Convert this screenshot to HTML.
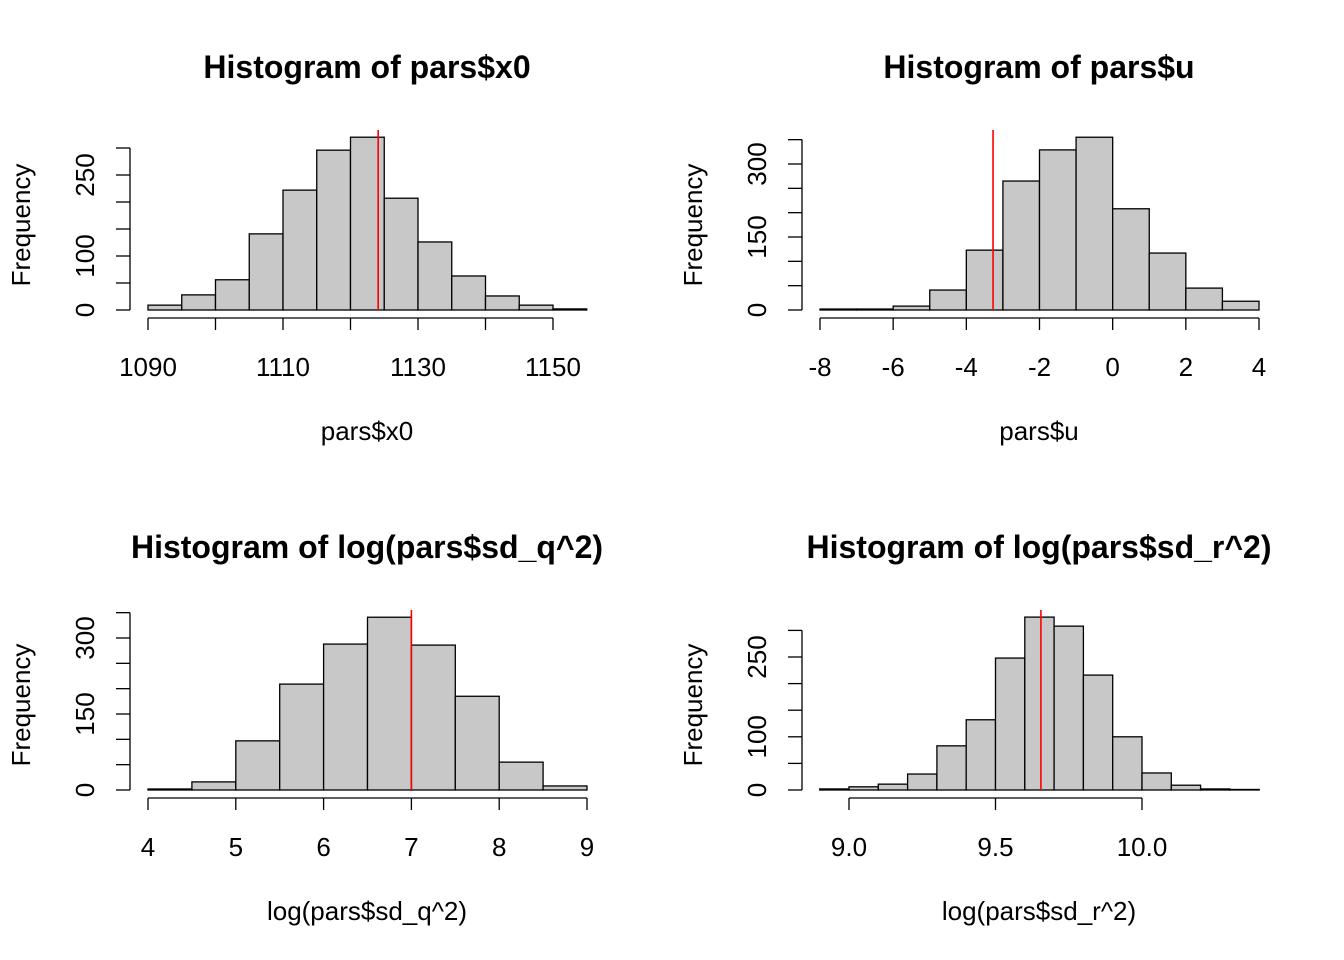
<!DOCTYPE html>
<html><head><meta charset="utf-8"><style>
body{margin:0;background:#fff;}
svg{display:block;font-family:"Liberation Sans",Arial,sans-serif;}
</style></head><body>
<svg id="chart" width="1344" height="960" viewBox="0 0 1344 960"></svg>
<script>
const titles=["Histogram of pars$x0","Histogram of pars$u","Histogram of log(pars$sd_q^2)","Histogram of log(pars$sd_r^2)"];
const xlabels=["pars$x0","pars$u","log(pars$sd_q^2)","log(pars$sd_r^2)"];
const breaks1=[1090,1095,1100,1105,1110,1115,1120,1125,1130,1135,1140,1145,1150,1155];
const counts1=[9,28,56,141,222,296,320,207,126,63,26,9,2];
const breaks2=[-8,-7,-6,-5,-4,-3,-2,-1,0,1,2,3,4];
const counts2=[2,2,8,41,123,265,329,355,208,117,45,18];
const breaks3=[4,4.5,5,5.5,6,6.5,7,7.5,8,8.5,9];
const counts3=[2,16,97,209,288,341,286,185,55,8];
const breaks4=[8.9,9.0,9.1,9.2,9.3,9.4,9.5,9.6,9.7,9.8,9.9,10.0,10.1,10.2,10.3,10.4];
const counts4=[2,6,11,30,83,132,248,325,308,216,100,32,9,2,1];
const redLines=[1124.1,-3.27,7.0,9.655];
const xticks1=[1090,1110,1130,1150],xminor1=[1090,1100,1110,1120,1130,1140,1150];
const xticks2=[-8,-6,-4,-2,0,2,4];
const xticks3=[4,5,6,7,8,9];
const xticks4=[9.0,9.5,10.0];
const ylabels1=[0,100,250],yticks1=[0,50,100,150,200,250,300];
const ylabels2=[0,150,300],yticks2=[0,50,100,150,200,250,300,350];
const ylabels3=[0,150,300],yticks3=[0,50,100,150,200,250,300,350];
const ylabels4=[0,100,250],yticks4=[0,50,100,150,200,250,300];

const panels=[
 {b:breaks1,c:counts1,xr:[1090,1150],px:[148,553],y0:310,ypu:(310-175)/250,xt:xminor1,xl:xticks1,fmt:v=>v,yt:yticks1,yl:ylabels1,tx:367,ty:67,yax:130},
 {b:breaks2,c:counts2,xr:[-8,4],px:[820,1259],y0:310,ypu:73/150,xt:xticks2,xl:xticks2,fmt:v=>v,yt:yticks2,yl:ylabels2,tx:1039,ty:67,yax:802},
 {b:breaks3,c:counts3,xr:[4,9],px:[148,587],y0:790,ypu:152/300,xt:xticks3,xl:xticks3,fmt:v=>v,yt:yticks3,yl:ylabels3,tx:367,ty:547,yax:130},
 {b:breaks4,c:counts4,xr:[9.0,10.0],px:[849,1142],y0:790,ypu:133/250,xt:xticks4,xl:xticks4,fmt:v=>v.toFixed(1),yt:yticks4,yl:ylabels4,tx:1039,ty:547,yax:802}
];
const NS="http://www.w3.org/2000/svg",svg=document.getElementById('chart');
function mk(tag,attrs,parent,text){const e=document.createElementNS(NS,tag);for(const k in attrs)e.setAttribute(k,attrs[k]);if(text!==undefined)e.textContent=text;(parent||svg).appendChild(e);return e;}
panels.forEach((p,i)=>{
 const g=mk('g',{});
 
 
 const sx=v=>p.px[0]+(v-p.xr[0])*(p.px[1]-p.px[0])/(p.xr[1]-p.xr[0]);
 const sy=v=>p.y0-v*p.ypu;
 const t=mk('text',{x:p.tx,y:p.ty+11,'text-anchor':'middle','font-size':'32','font-weight':'bold'},g,titles[i]);
 
 
 p.c.forEach((c,j)=>{
  const x1=sx(p.b[j]),x2=sx(p.b[j+1]);
  const r=mk('rect',{x:x1,y:sy(c),width:x2-x1,height:c*p.ypu,fill:'#c8c8c8',stroke:'#000','stroke-width':1.3},g);
  
  
 });
 const ax=p.y0+8;
 const xa=mk('g',{},g);
 
 
 mk('line',{x1:sx(p.xt[0]),x2:sx(p.xt[p.xt.length-1]),y1:ax,y2:ax,stroke:'#000','stroke-width':1.3},xa);
 p.xt.forEach(v=>mk('line',{x1:sx(v),x2:sx(v),y1:ax,y2:ax+12,stroke:'#000','stroke-width':1.3},xa));
 p.xl.forEach(v=>mk('text',{x:sx(v),y:ax+58,'text-anchor':'middle','font-size':'26'},xa,p.fmt(v)));
 const xt=mk('text',{x:p.tx,y:ax+122,'text-anchor':'middle','font-size':'26'},g,xlabels[i]);
 
 
 const ya=mk('g',{},g);
 
 
 const yx=p.yax;
 mk('line',{x1:yx,x2:yx,y1:sy(p.yt[0]),y2:sy(p.yt[p.yt.length-1]),stroke:'#000','stroke-width':1.3},ya);
 p.yt.forEach(v=>mk('line',{x1:yx,x2:yx-14,y1:sy(v),y2:sy(v),stroke:'#000','stroke-width':1.3},ya));
 p.yl.forEach(v=>mk('text',{x:yx-36,y:sy(v),'text-anchor':'middle','font-size':'26',transform:`rotate(-90 ${yx-36} ${sy(v)})`},ya,v));
 const yc=p.y0-85,xx=yx-100;
 const yt=mk('text',{x:xx,y:yc,'text-anchor':'middle','font-size':'26',transform:`rotate(-90 ${xx} ${yc})`},g,'Frequency');
 
 
 const top=p.y0-180;
 const rl=mk('line',{x1:sx(redLines[i]),x2:sx(redLines[i]),y1:top,y2:p.y0,stroke:'#ff0000','stroke-width':1.6},g);
 
 
});
</script>
</body></html>
